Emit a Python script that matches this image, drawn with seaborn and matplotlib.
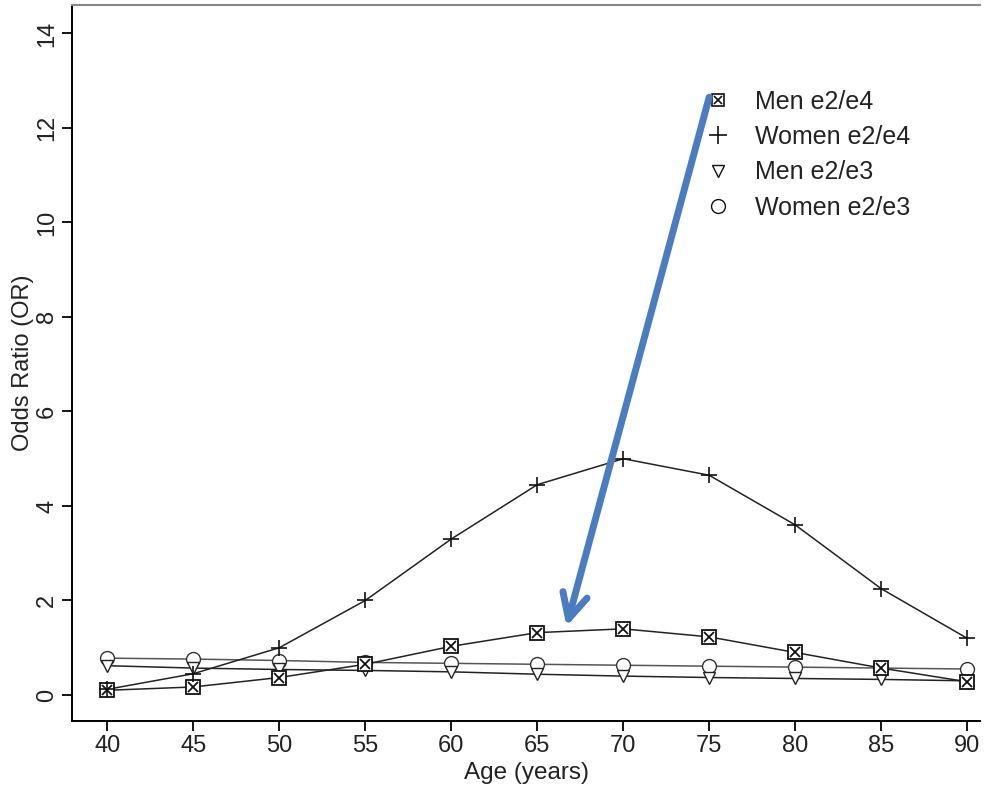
import matplotlib
matplotlib.use("Agg")
import matplotlib.pyplot as plt
import seaborn as sns
import pandas as pd
import numpy as np
from matplotlib.lines import Line2D
from matplotlib.legend_handler import HandlerTuple

ages = [40, 45, 50, 55, 60, 65, 70, 75, 80, 85, 90]
men_e2e4 = [0.10, 0.17, 0.37, 0.65, 1.03, 1.32, 1.40, 1.23, 0.90, 0.57, 0.28]
women_e2e4 = [0.12, 0.45, 1.00, 2.00, 3.30, 4.45, 5.00, 4.65, 3.60, 2.25, 1.20]
men_e2e3 = [0.62, 0.57, 0.54, 0.52, 0.49, 0.44, 0.40, 0.37, 0.35, 0.33, 0.30]
women_e2e3 = [0.78, 0.76, 0.73, 0.69, 0.67, 0.65, 0.63, 0.61, 0.59, 0.57, 0.55]
series_names = ["Men e2/e4", "Women e2/e4", "Men e2/e3", "Women e2/e3"]
y_ticks = [0, 2, 4, 6, 8, 10, 12, 14]
x_ticks = [40, 45, 50, 55, 60, 65, 70, 75, 80, 85, 90]

sns.set_theme(style="white")
plt.rcParams["font.family"] = ["Liberation Sans", "DejaVu Sans"]

df = pd.DataFrame({
    "age": ages * 4,
    "OR": men_e2e4 + women_e2e4 + men_e2e3 + women_e2e3,
    "series": sum([[n] * len(ages) for n in series_names], []),
})

fig = plt.figure(figsize=(9.84, 7.86), dpi=100)
ax = fig.add_axes([0.0732, 0.0827, 0.9228, 0.9109])

line_colors = {"Men e2/e4": "#222222", "Women e2/e4": "#222222",
               "Men e2/e3": "#222222", "Women e2/e3": "#555555"}

order = ["Women e2/e3", "Men e2/e3", "Men e2/e4", "Women e2/e4"]
for name in order:
    sub = df[df["series"] == name]
    sns.lineplot(data=sub, x="age", y="OR", ax=ax, color=line_colors[name],
                 linewidth=1.1, legend=False, zorder=2)

sub = df[df["series"] == "Women e2/e3"]
ax.plot(sub["age"], sub["OR"], ls="none", marker="o", ms=10, mfc="white",
        mec="#333333", mew=1.0, zorder=3)
sub = df[df["series"] == "Men e2/e3"]
ax.plot(sub["age"], sub["OR"], ls="none", marker="v", ms=8, mfc="white",
        mec="#222222", mew=1.0, zorder=3)
sub = df[df["series"] == "Men e2/e4"]
ax.plot(sub["age"], sub["OR"], ls="none", marker="s", ms=10, mfc="white",
        mec="#111111", mew=1.3, zorder=4)
ax.plot(sub["age"], sub["OR"], ls="none", marker="x", ms=7, mec="#111111",
        mew=1.3, zorder=5)
sub = df[df["series"] == "Women e2/e4"]
ax.plot(sub["age"], sub["OR"], ls="none", marker="+", ms=12, mec="#111111",
        mew=1.2, zorder=4)

ax.set_xlim(37.95, 90.75)
ax.set_ylim(-0.55, 14.6)
ax.set_xticks(x_ticks)
ax.set_yticks(y_ticks)
ax.set_xticklabels([str(t) for t in x_ticks], fontsize=17, color="#222222")
ax.set_yticklabels([str(t) for t in y_ticks], fontsize=17, color="#222222",
                   rotation=90, va="center")
ax.tick_params(axis="both", direction="out", length=7, width=1.3, color="black",
               bottom=True, left=True, pad=3)
ax.set_xlabel("Age (years)", fontsize=17.5, color="#222222", labelpad=4)
ax.set_ylabel("Odds Ratio (OR)", fontsize=17, color="#222222", labelpad=1.5)

for s in ["left", "bottom"]:
    ax.spines[s].set_color("black")
    ax.spines[s].set_linewidth(1.4)
ax.spines["right"].set_visible(False)
ax.spines["top"].set_color("#888888")
ax.spines["top"].set_linewidth(1.5)

h1 = (Line2D([], [], ls="none", marker="s", ms=9, mfc="white", mec="#111111", mew=1.2),
      Line2D([], [], ls="none", marker="x", ms=6, mec="#111111", mew=1.2))
h2 = Line2D([], [], ls="none", marker="+", ms=13, mec="#111111", mew=1.2)
h3 = Line2D([], [], ls="none", marker="v", ms=9, mfc="white", mec="#111111", mew=1.0)
h4 = Line2D([], [], ls="none", marker="o", ms=10, mfc="white", mec="#111111", mew=1.0)
leg = ax.legend([h1, h2, h3, h4], series_names,
                handler_map={tuple: HandlerTuple(ndivide=1)},
                loc="upper left", bbox_to_anchor=(0.672, 0.913), frameon=False,
                fontsize=18, handlelength=1.1, handletextpad=0.9, labelspacing=0.45)
for t in leg.get_texts():
    t.set_color("#222222")

# blue annotation arrow
ax.annotate("", xy=(66.7, 1.45), xytext=(75.0, 12.65),
            arrowprops=dict(arrowstyle="->,head_length=1.5,head_width=0.75",
                            color="#4a7cc0", lw=5, shrinkA=0, shrinkB=0),
            zorder=6)

fig.savefig("out.png", dpi=100)
